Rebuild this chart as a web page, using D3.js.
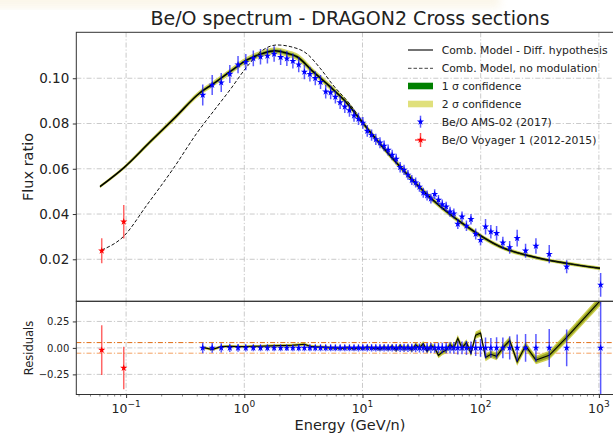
<!DOCTYPE html>
<html><head><meta charset="utf-8">
<script src="https://cdn.jsdelivr.net/npm/d3@7"></script>
<style>body{margin:0;background:#fff} svg{display:block} text{font-family:'DejaVu Sans',sans-serif;fill:#222}</style>
</head><body><svg id="c" width="613" height="433"></svg>
<script>
// ---------------- data ----------------
const amsE = [0.445,0.535,0.638,0.754,0.885,1.030,1.192,1.371,1.569,1.788,2.029,2.291,2.576,2.887,3.225,3.591,3.987,4.415,4.883,5.377,5.897,6.466,7.085,7.756,8.476,9.245,10.07,10.97,11.94,12.96,14.06,15.23,16.48,17.82,19.27,20.82,22.47,24.24,26.14,28.16,30.33,32.68,35.20,37.90,40.80,43.92,47.29,51.03,55.03,59.28,64.02,69.51,75.75,82.74,90.72,99.71,109.9,121.9,136.3,154.0,175.9,203.5,239.7,293.4,380.1,533.9,1034.7];
const amsV = [0.0926,0.0970,0.0981,0.1019,0.1060,0.1071,0.1088,0.1095,0.1099,0.1107,0.1093,0.1087,0.1076,0.1060,0.1028,0.1018,0.1000,0.0983,0.0941,0.0937,0.0917,0.0893,0.0874,0.0858,0.0835,0.0820,0.0803,0.0767,0.0749,0.0730,0.0715,0.0701,0.0683,0.0661,0.0643,0.0607,0.0595,0.0573,0.0550,0.0539,0.0520,0.0494,0.0482,0.0468,0.0488,0.0462,0.0442,0.0432,0.0410,0.0402,0.0356,0.0388,0.0348,0.0377,0.0312,0.0285,0.0344,0.0322,0.0315,0.0273,0.0253,0.0293,0.0238,0.0259,0.0223,0.0167,0.0087];
const amsErr = [0.0046,0.0044,0.0042,0.0040,0.0038,0.0036,0.0035,0.0034,0.0034,0.0034,0.0034,0.0033,0.0033,0.0033,0.0032,0.0032,0.0031,0.0031,0.0030,0.0030,0.0029,0.0029,0.0028,0.0028,0.0027,0.0027,0.0026,0.0026,0.0025,0.0025,0.0024,0.0024,0.0024,0.0023,0.0023,0.0023,0.0023,0.0022,0.0022,0.0022,0.0022,0.0022,0.0022,0.0022,0.0022,0.0022,0.0022,0.0022,0.0022,0.0022,0.0022,0.0023,0.0023,0.0023,0.0024,0.0024,0.0034,0.0030,0.0032,0.0027,0.0028,0.0037,0.0031,0.0034,0.0040,0.0029,0.0052];
// residual of the combined model at AMS energies
const resModel = [0.005,-0.015,0.012,0.015,0.012,0.013,0.015,0.015,0.018,0.02,0.022,0.022,0.025,0.03,0.035,0.015,0.01,0.008,0.005,0.0,0.002,-0.005,0.0,0.003,-0.01,0.005,-0.008,0.01,-0.005,0.0,-0.012,0.008,-0.01,0.015,-0.02,0.02,-0.01,0.01,-0.02,0.03,0.0,0.04,-0.03,0.02,0.0,-0.07,-0.04,-0.02,0.03,0.0,0.09,0.0,0.05,-0.05,0.12,0.14,-0.09,-0.06,-0.08,0.0,0.07,-0.13,0.02,-0.115,-0.07,0.10,0.45];

const voyE = [0.0622,0.0955];
const voyV = [0.0238,0.0366];
const voyErr = [0.0055,0.0074];
const voyRes = [-0.02,-0.19];
const voyResErr = [0.235,0.20];

const modelE = [0.0601,0.096,0.159,0.259,0.422,0.544,0.757,1.054,1.439,1.82,2.30,2.79,3.82,5.31,7.40,10.1,20.8,39.4,76.6,145.6,277,537,1021];
const modelV = [0.0521,0.0605,0.0718,0.0826,0.0936,0.0975,0.1029,0.1081,0.1110,0.1121,0.1110,0.1095,0.1029,0.0963,0.0890,0.0801,0.0609,0.0462,0.0344,0.0256,0.0211,0.0182,0.0160];
const noModE = [0.0622,0.0947,0.15,0.25,0.40,0.55,0.76,1.05,1.44,1.89,2.44,3.39,4.37,5.63,7.84,10.1,20.8,39.4,76.6,145.6,277,537,1021];
const noModV = [0.0241,0.0300,0.0440,0.0600,0.0760,0.0855,0.0950,0.1050,0.1125,0.1147,0.1140,0.1108,0.1045,0.0970,0.0885,0.0805,0.0609,0.0462,0.0344,0.0256,0.0211,0.0182,0.0160];
// relative half-widths of confidence bands
const bandE = [0.06,1,10,30,100,300,1000];
const band1 = [0.007,0.006,0.008,0.013,0.02,0.025,0.03];
const band2 = [0.014,0.013,0.015,0.025,0.035,0.04,0.05];

const xTicks = [0.1,1,10,100,1000];
const xTickExp = ["\u22121","0","1","2","3"];
const yTicks = [0.02,0.04,0.06,0.08,0.10];
const resTicks = [-0.25,0,0.25];
const legendItems = ["Comb. Model - Diff. hypothesis","Comb. Model, no modulation","1 \u03c3 confidence","2 \u03c3 confidence","Be/O AMS-02 (2017)","Be/O Voyager 1 (2012-2015)"];

// ---------------- drawing ----------------
const svg = d3.select("#c");
const L = 76.3, R = 624, T = 32.3, MB = 301.3, B = 394.5;
const x = d3.scaleLog().domain([0.0379,1631]).range([L,R]);
const y = d3.scaleLinear().domain([0.00144,0.1203]).range([MB,T]);
const yr = d3.scaleLinear().domain([-0.44,0.44]).range([B,MB]);
const bw1 = d3.scaleLog().domain(bandE).range(band1).clamp(true);
const bw2 = d3.scaleLog().domain(bandE).range(band2).clamp(true);

// top haze
const defs = svg.append("defs");
defs.append("filter").attr("id","blur").append("feGaussianBlur").attr("stdDeviation",4);
svg.append("rect").attr("x",-20).attr("y",-10).attr("width",520).attr("height",18).attr("fill","#f7ecd2").attr("opacity",0.45).attr("filter","url(#blur)");

defs.append("clipPath").attr("id","cm").append("rect").attr("x",L).attr("y",T).attr("width",R-L).attr("height",MB-T);
defs.append("clipPath").attr("id","cr").append("rect").attr("x",L).attr("y",MB).attr("width",R-L).attr("height",B-MB);

const gridStyle = s => s.attr("stroke","#bdbdbd").attr("stroke-width",0.8).attr("stroke-dasharray","5,2,1.2,2");

// Main grid
const gm = svg.append("g");
gm.selectAll(".vx").data(xTicks).join("line").attr("x1",d=>x(d)).attr("x2",d=>x(d)).attr("y1",T).attr("y2",MB).call(gridStyle);
gm.selectAll(".hy").data(yTicks).join("line").attr("x1",L).attr("x2",R).attr("y1",d=>y(d)).attr("y2",d=>y(d)).call(gridStyle);
// Residual grid
const gr = svg.append("g");
gr.selectAll(".vx").data(xTicks).join("line").attr("x1",d=>x(d)).attr("x2",d=>x(d)).attr("y1",MB).attr("y2",B).call(gridStyle);
gr.selectAll(".hy").data(resTicks).join("line").attr("x1",L).attr("x2",R).attr("y1",d=>yr(d)).attr("y2",d=>yr(d)).call(gridStyle);

// ---- main panel
const pm = svg.append("g").attr("clip-path","url(#cm)");
const model = modelE.map((e,i)=>({e,v:modelV[i]}));
const area = (w) => d3.area().curve(d3.curveMonotoneX).x(d=>x(d.e)).y0(d=>y(d.v*(1-w(d.e)))).y1(d=>y(d.v*(1+w(d.e))));
pm.append("path").datum(model).attr("d",area(bw2)).attr("fill","#c8c832").attr("opacity",0.75);
pm.append("path").datum(model).attr("d",area(bw1)).attr("fill","#5f8f10").attr("opacity",0.8);
const line = d3.line().curve(d3.curveMonotoneX).x(d=>x(d.e)).y(d=>y(d.v));
pm.append("path").datum(model).attr("d",line).attr("fill","none").attr("stroke","#000").attr("stroke-width",1.5);
const nomod = noModE.map((e,i)=>({e,v:noModV[i]}));
pm.append("path").datum(nomod).attr("d",line).attr("fill","none").attr("stroke","#111").attr("stroke-width",1).attr("stroke-dasharray","3.5,2");

const star = d3.symbol().type(d3.symbolStar).size(16);
// AMS
pm.selectAll(".ae").data(amsE).join("line").attr("x1",d=>x(d)).attr("x2",d=>x(d))
  .attr("y1",(d,i)=>y(amsV[i]-amsErr[i])).attr("y2",(d,i)=>y(amsV[i]+amsErr[i]))
  .attr("stroke","#0000ff").attr("stroke-opacity",0.65).attr("stroke-width",1.5);
pm.selectAll(".am").data(amsE).join("path").attr("d",star).attr("transform",(d,i)=>`translate(${x(d)},${y(amsV[i])})`).attr("fill","#0000ff");
// Voyager
pm.selectAll(".ve").data(voyE).join("line").attr("x1",d=>x(d)).attr("x2",d=>x(d))
  .attr("y1",(d,i)=>y(voyV[i]-voyErr[i])).attr("y2",(d,i)=>y(voyV[i]+voyErr[i]))
  .attr("stroke","#ff0000").attr("stroke-opacity",0.6).attr("stroke-width",1.5);
pm.selectAll(".vm").data(voyE).join("path").attr("d",star).attr("transform",(d,i)=>`translate(${x(d)},${y(voyV[i])})`).attr("fill","#ff0000");

// ---- residual panel
const pr = svg.append("g").attr("clip-path","url(#cr)");
pr.append("line").attr("x1",L).attr("x2",R).attr("y1",yr(0.05)).attr("y2",yr(0.05)).attr("stroke","#e06a10").attr("stroke-width",1).attr("stroke-dasharray","5,2,1.2,2");
pr.append("line").attr("x1",L).attr("x2",R).attr("y1",yr(-0.05)).attr("y2",yr(-0.05)).attr("stroke","#f3a060").attr("stroke-width",1).attr("stroke-dasharray","5,2,1.2,2");
const res = amsE.map((e,i)=>({e,r:resModel[i]}));
const rarea = (w) => d3.area().x(d=>x(d.e)).y0(d=>yr(d.r - w(d.e))).y1(d=>yr(d.r + w(d.e)));
pr.append("path").datum(res).attr("d",rarea(bw2)).attr("fill","#c8c832").attr("opacity",0.85);
pr.append("path").datum(res).attr("d",rarea(bw1)).attr("fill","#8a9a18").attr("opacity",0.85);
pr.append("path").datum(res).attr("d",d3.line().x(d=>x(d.e)).y(d=>yr(d.r))).attr("fill","none").attr("stroke","#000").attr("stroke-width",1.1);
pr.selectAll(".re").data(amsE).join("line").attr("x1",d=>x(d)).attr("x2",d=>x(d))
  .attr("y1",(d,i)=>yr(-amsErr[i]/amsV[i])).attr("y2",(d,i)=>yr(amsErr[i]/amsV[i]))
  .attr("stroke","#0000ff").attr("stroke-opacity",0.65).attr("stroke-width",1.5);
pr.selectAll(".rm").data(amsE).join("path").attr("d",star).attr("transform",d=>`translate(${x(d)},${yr(0)})`).attr("fill","#0000ff");
pr.selectAll(".rve").data(voyE).join("line").attr("x1",d=>x(d)).attr("x2",d=>x(d))
  .attr("y1",(d,i)=>yr(voyRes[i]-voyResErr[i])).attr("y2",(d,i)=>yr(voyRes[i]+voyResErr[i]))
  .attr("stroke","#ff0000").attr("stroke-opacity",0.6).attr("stroke-width",1.5);
pr.selectAll(".rvm").data(voyE).join("path").attr("d",star).attr("transform",(d,i)=>`translate(${x(d)},${yr(voyRes[i])})`).attr("fill","#ff0000");

// ---- spines & axes
const sp = svg.append("g").attr("stroke","#333").attr("stroke-width",1).attr("fill","none");
sp.append("rect").attr("x",L).attr("y",T).attr("width",R-L).attr("height",MB-T);
sp.append("rect").attr("x",L).attr("y",MB).attr("width",R-L).attr("height",B-MB);

// y axis main
const ya = svg.append("g").attr("transform",`translate(${L},0)`).call(d3.axisLeft(y).tickValues(yTicks).tickFormat(d3.format(".2f")).tickSize(3.5).tickPadding(3.5));
ya.select(".domain").remove();
ya.selectAll("text").attr("font-size",13.5).attr("font-family","DejaVu Sans").attr("fill","#222");
ya.selectAll("line").attr("stroke","#333");
// y axis residual
const yra = svg.append("g").attr("transform",`translate(${L},0)`).call(d3.axisLeft(yr).tickValues(resTicks).tickFormat(d=>d3.format(".2f")(d).replace("-","\u2212")).tickSize(3.5).tickPadding(3.5));
yra.select(".domain").remove();
yra.selectAll("text").attr("font-size",10).attr("font-family","DejaVu Sans").attr("fill","#222");
yra.selectAll("line").attr("stroke","#333");
// x axis (bottom of residual)
const xa = svg.append("g").attr("transform",`translate(0,${B})`).call(d3.axisBottom(x).tickValues(xTicks).tickFormat("").tickSize(3.5));
xa.select(".domain").remove();
xa.selectAll("line").attr("stroke","#333");
const minor = [];
[0.01,0.1,1,10,100,1000].forEach(dec=>{for(let k=2;k<10;k++){const v=dec*k; if(v>x.domain()[0]&&v<x.domain()[1]) minor.push(v);}});
svg.append("g").selectAll("line").data(minor).join("line").attr("x1",d=>x(d)).attr("x2",d=>x(d)).attr("y1",B).attr("y2",B+2).attr("stroke","#333").attr("stroke-width",0.6);
const xl = svg.append("g").selectAll("text").data(xTicks).join("text")
  .attr("x",d=>x(d)).attr("y",B+18).attr("text-anchor","middle").attr("font-size",12.5);
xl.append("tspan").text("10");
xl.append("tspan").attr("dy",-5.5).attr("font-size",9).text((d,i)=>xTickExp[i]);

// axis labels
svg.append("text").attr("x",350).attr("y",430).attr("text-anchor","middle").attr("font-size",14.5).text("Energy (GeV/n)");
svg.append("text").attr("transform","translate(33,167) rotate(-90)").attr("text-anchor","middle").attr("font-size",14.5).text("Flux ratio");
svg.append("text").attr("transform","translate(33,348) rotate(-90)").attr("text-anchor","middle").attr("font-size",11.5).text("Residuals");
svg.append("text").attr("x",350).attr("y",25).attr("text-anchor","middle").attr("font-size",19).text("Be/O spectrum - DRAGON2 Cross sections");

// legend
const lg = svg.append("g");
const ly = [50,68.3,86,104,121.7,140];
const hx0 = 408, hx1 = 433, hc = 420.5;
lg.append("line").attr("x1",hx0).attr("x2",hx1).attr("y1",ly[0]).attr("y2",ly[0]).attr("stroke","#444").attr("stroke-width",1.5);
lg.append("line").attr("x1",hx0).attr("x2",hx1).attr("y1",ly[1]).attr("y2",ly[1]).attr("stroke","#444").attr("stroke-width",1).attr("stroke-dasharray","3.5,2");
lg.append("rect").attr("x",hx0).attr("y",ly[2]-3.3).attr("width",hx1-hx0).attr("height",6.6).attr("fill","#008000");
lg.append("rect").attr("x",hx0).attr("y",ly[3]-3.3).attr("width",hx1-hx0).attr("height",6.6).attr("fill","#e0e07c");
lg.append("line").attr("x1",hc).attr("x2",hc).attr("y1",ly[4]-6).attr("y2",ly[4]+6).attr("stroke","#0000ff").attr("stroke-opacity",0.65).attr("stroke-width",1.5);
lg.append("path").attr("d",star).attr("transform",`translate(${hc},${ly[4]})`).attr("fill","#0000ff");
lg.append("line").attr("x1",hc).attr("x2",hc).attr("y1",ly[5]-7).attr("y2",ly[5]+7).attr("stroke","#ff0000").attr("stroke-opacity",0.7).attr("stroke-width",1.5);
lg.append("line").attr("x1",hc-5.5).attr("x2",hc+5.5).attr("y1",ly[5]).attr("y2",ly[5]).attr("stroke","#ff0000").attr("stroke-opacity",0.7).attr("stroke-width",1.5);
lg.append("path").attr("d",star).attr("transform",`translate(${hc},${ly[5]})`).attr("fill","#ff0000");
lg.selectAll(".lt").data(legendItems).join("text").attr("x",441.7).attr("y",(d,i)=>ly[i]+3.9).attr("font-size",10.8).text(d=>d);
</script></body></html>
